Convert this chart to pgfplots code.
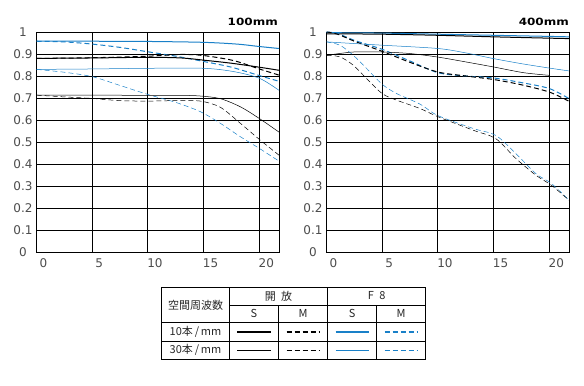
\documentclass[border=0pt]{standalone}
\usepackage{fontspec}
\setmainfont{DejaVu Sans}
\newfontfamily\cjk{Noto Sans CJK JP}
\usepackage{graphicx}
\usepackage{pgfplots}
\pgfplotsset{compat=1.18}
\definecolor{mblue}{RGB}{25,128,200}
\pgfplotsset{
  mtf/.style={
    scale only axis, width=243bp, height=220bp,
    xmin=-0.05, xmax=21.77, ymin=0, ymax=1,
    xtick={0,5,10,15,20}, xticklabels={0,5,10,15,20},
    ytick={0,0.1,0.2,0.3,0.4,0.5,0.6,0.7,0.8,0.9,1},
    yticklabels={0,0.1,0.2,0.3,0.4,0.5,0.6,0.7,0.8,0.9,1},
    grid=major, major grid style={black, line width=0.9bp},
    axis line style={black, line width=0.9bp},
    major tick length=0pt, tick style={draw=none},
    tick label style={font=\fontsize{12bp}{14bp}\selectfont, text=black!70},
    yticklabel style={anchor=center, xshift=-13bp},
    xticklabel style={anchor=center, xshift=7bp, yshift=-11bp},
    /pgf/number format/assume math mode=true,
  },
  s10/.style={line width=1.0bp, smooth, no marks},
  s30/.style={line width=0.5bp, smooth, no marks},
  dsh/.style={dash pattern=on 5bp off 3bp},
}
\begin{document}
\begin{tikzpicture}
\path[use as bounding box] (0,0) rectangle (584bp,386bp);
% ---------------- 100mm
\begin{axis}[mtf, at={(36bp,134bp)}, anchor=south west]
\addplot[s10, mblue] coordinates {(0,0.958)(5,0.958)(10,0.957)(15,0.953)(18,0.945)(20,0.934)(21.77,0.925)};
\addplot[s10, mblue, dsh] coordinates {(0,0.958)(2.5,0.955)(5,0.945)(7.5,0.93)(10,0.91)(12.5,0.89)(15,0.866)(17.5,0.84)(20,0.802)(21.77,0.776)};
\addplot[s10, black] coordinates {(0,0.88)(5,0.882)(10,0.885)(13,0.882)(15,0.872)(17.5,0.858)(20,0.84)(21.77,0.826)};
\addplot[s10, black, dsh] coordinates {(0,0.88)(5,0.883)(10,0.89)(13,0.898)(15,0.893)(17.7,0.87)(20,0.832)(21.77,0.804)};
\addplot[s30, mblue] coordinates {(0,0.83)(5,0.832)(10,0.835)(15,0.835)(17.7,0.82)(20,0.79)(21.77,0.735)};
\addplot[s30, mblue, dsh] coordinates {(0,0.83)(2.5,0.817)(5,0.797)(7.5,0.757)(10,0.716)(12.5,0.68)(14.7,0.638)(16.5,0.585)(18.3,0.524)(20,0.471)(21.77,0.413)};
\addplot[s30, black] coordinates {(0,0.713)(5,0.713)(10,0.712)(13,0.712)(14.7,0.709)(16.5,0.697)(18.3,0.66)(20,0.607)(21.77,0.545)};
\addplot[s30, black, dsh] coordinates {(0,0.713)(2.5,0.705)(5,0.698)(7.5,0.688)(10,0.686)(12.5,0.688)(14.7,0.686)(16.5,0.658)(18.3,0.585)(20,0.512)(21.77,0.44)};
\end{axis}
% ---------------- 400mm
\begin{axis}[mtf, at={(326bp,134bp)}, anchor=south west]
\addplot[s10, mblue] coordinates {(0,0.997)(5,0.995)(10,0.99)(15,0.985)(20,0.98)(21.78,0.978)};
\addplot[s10, black] coordinates {(0,0.992)(5,0.99)(10,0.985)(15,0.978)(20,0.972)(21.78,0.97)};
\addplot[s10, mblue, dsh] coordinates {(0,1.0)(1,0.993)(2.5,0.962)(5,0.921)(7.5,0.868)(10,0.815)(12.5,0.8)(15,0.791)(17.5,0.77)(20,0.743)(21.78,0.697)};
\addplot[s10, black, dsh] coordinates {(0,1.0)(1,0.99)(2.5,0.958)(5,0.912)(7.5,0.862)(10,0.818)(12.5,0.8)(15,0.784)(17.5,0.76)(20,0.727)(21.78,0.685)};
\addplot[s30, mblue] coordinates {(0,0.955)(5,0.94)(10,0.925)(12.5,0.905)(15,0.879)(17.5,0.856)(20,0.836)(21.78,0.823)};
\addplot[s30, black] coordinates {(0,0.894)(2.4,0.909)(5,0.909)(7.5,0.902)(10,0.886)(12.5,0.864)(15,0.841)(17.7,0.815)(20,0.803)};
\addplot[s30, mblue, dsh] coordinates {(0,0.955)(1.2,0.94)(2.4,0.894)(3.6,0.834)(5,0.762)(6.3,0.72)(8.4,0.672)(10,0.62)(13.2,0.561)(15.2,0.53)(17,0.447)(18.8,0.356)(20.2,0.311)(21.78,0.235)};
\addplot[s30, black, dsh] coordinates {(0,0.894)(1.2,0.887)(2.4,0.849)(3.6,0.788)(5,0.72)(6.3,0.69)(8.4,0.652)(10,0.615)(13.2,0.553)(15.2,0.515)(17,0.425)(18.8,0.349)(20.2,0.303)(21.78,0.235)};
\end{axis}
% titles
\node[anchor=base east, inner sep=0pt, font=\bfseries\fontsize{10bp}{12bp}\selectfont] at (278bp,360.3bp) {\scalebox{1.2}[1]{100mm}};
\node[anchor=base east, inner sep=0pt, font=\bfseries\fontsize{10bp}{12bp}\selectfont] at (569bp,360.3bp) {\scalebox{1.2}[1]{400mm}};
% legend table
\begin{scope}[line width=0.9bp]
\draw (161.7bp,27bp) rectangle (425.7bp,98.7bp);
\draw (229.3bp,81bp) -- (425.7bp,81bp);
\draw (161.7bp,63.3bp) -- (425.7bp,63.3bp);
\draw (161.7bp,45bp) -- (425.7bp,45bp);
\draw (229.3bp,27bp) -- (229.3bp,98.7bp);
\draw (327.7bp,27bp) -- (327.7bp,98.7bp);
\draw (278.3bp,27bp) -- (278.3bp,81bp);
\draw (376.7bp,27bp) -- (376.7bp,81bp);
\end{scope}
\begin{scope}[every node/.style={inner sep=0pt, text=black!85, font=\cjk\fontsize{11bp}{13bp}\selectfont}]
\node at (195.5bp,81bp) {空間周波数};
\node at (278.5bp,90bp) {開\enspace 放};
\node at (376.7bp,90bp) {F\enspace 8};
\node at (253.8bp,72.1bp) {S};
\node at (303bp,72.1bp) {M};
\node at (352.2bp,72.1bp) {S};
\node at (401.2bp,72.1bp) {M};
\node at (195.5bp,54.1bp) {10本\,/\,mm};
\node at (195.5bp,36bp) {30本\,/\,mm};
\end{scope}
% legend samples
\draw[line width=1.8bp, black] (237.3bp,53.6bp) -- (270.7bp,53.6bp);
\draw[line width=1.8bp, black, dash pattern=on 5bp off 3bp] (286.7bp,53.6bp) -- (320bp,53.6bp);
\draw[line width=1.8bp, mblue] (335.7bp,53.6bp) -- (369bp,53.6bp);
\draw[line width=1.8bp, mblue, dash pattern=on 5bp off 3bp] (384.7bp,53.6bp) -- (418bp,53.6bp);
\draw[line width=0.45bp, black] (237.3bp,35.5bp) -- (270.7bp,35.5bp);
\draw[line width=0.45bp, black, dash pattern=on 5bp off 3bp] (286.7bp,35.5bp) -- (320bp,35.5bp);
\draw[line width=0.45bp, mblue] (335.7bp,35.5bp) -- (369bp,35.5bp);
\draw[line width=0.45bp, mblue, dash pattern=on 5bp off 3bp] (384.7bp,35.5bp) -- (418bp,35.5bp);
\end{tikzpicture}
\end{document}
